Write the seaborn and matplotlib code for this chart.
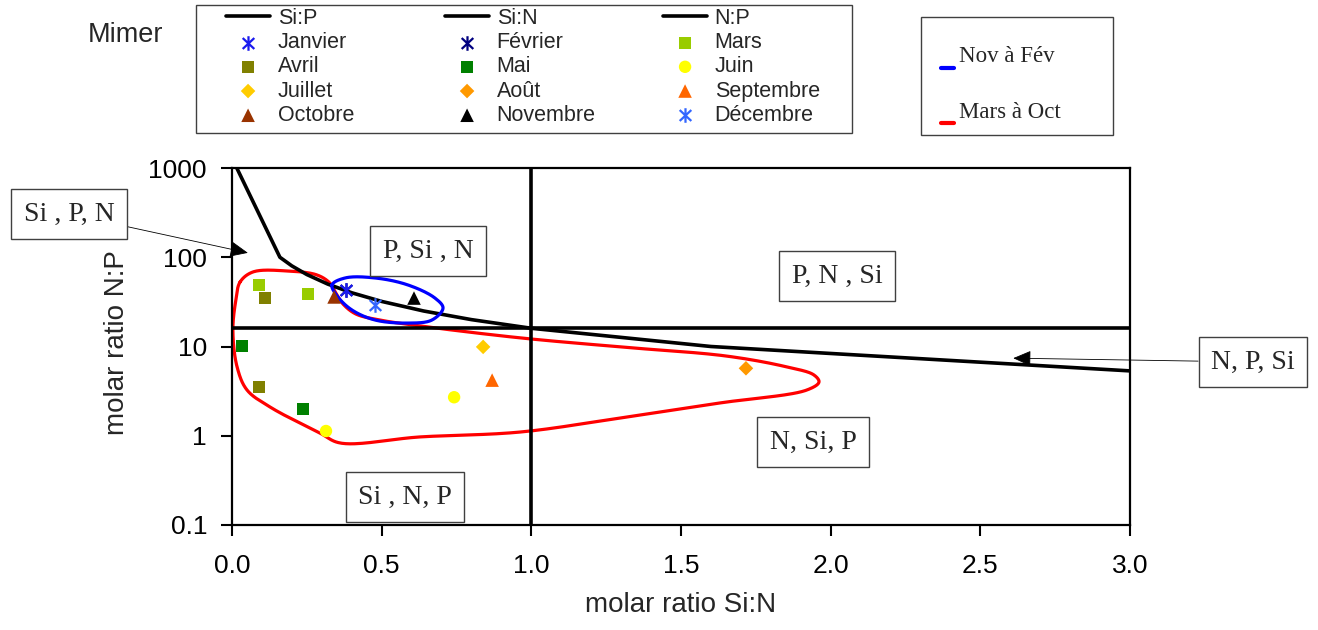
import numpy as np
import matplotlib
matplotlib.use("Agg")
import matplotlib.pyplot as plt
from matplotlib.path import Path
from matplotlib.lines import Line2D
from matplotlib.patches import Rectangle
import seaborn as sns

# ---------------- data ----------------
# Si:P = 16 limiting curve (Si:N on x, N:P on y)
sip_x = [0.016, 0.16, 0.2, 0.25, 0.32, 0.4, 0.5, 0.64, 0.8, 1.0, 1.6, 3.0]
sip_y = [1000, 100, 80, 64, 50, 40, 32, 25, 20, 16, 10, 5.33]
sin_limit = 1.0      # Si:N = 1
np_limit = 16.0      # N:P = 16

months = ["Janvier", "Février", "Mars", "Avril", "Mai", "Juin", "Juillet",
          "Août", "Septembre", "Octobre", "Novembre", "Décembre"]
month_si_n = {
    "Janvier": [0.38], "Février": [0.38], "Mars": [0.09, 0.254],
    "Avril": [0.11, 0.09], "Mai": [0.033, 0.237], "Juin": [0.314, 0.742],
    "Juillet": [0.839], "Août": [1.717], "Septembre": [0.869],
    "Octobre": [0.341], "Novembre": [0.608], "Décembre": [0.478],
}
month_n_p = {
    "Janvier": [43.0], "Février": [43.0], "Mars": [48.9, 38.7],
    "Avril": [34.9, 3.5], "Mai": [10.1, 2.0], "Juin": [1.13, 2.7],
    "Juillet": [9.9], "Août": [5.7], "Septembre": [4.2],
    "Octobre": [35.9], "Novembre": [34.9], "Décembre": [29.2],
}

# hand-drawn groupings (Si:N, N:P)
summer_x = [0.027, 0.070, 0.184, 0.284, 0.327, 0.347, 0.371, 0.414, 0.494, 0.628,
            0.962, 1.296, 1.654, 1.854, 1.944, 1.961, 1.921, 1.630, 1.296, 0.962,
            0.628, 0.361, 0.294, 0.127, 0.050, 0.017, 0.003, 0.013]
summer_y = [52.8, 68.4, 70.2, 63.3, 51.4, 39.7, 29.9, 23.1, 19.8, 17.0,
            12.5, 9.9, 7.8, 5.9, 4.8, 4.0, 3.26, 2.33, 1.58, 1.10,
            0.97, 0.83, 1.07, 2.10, 3.26, 5.9, 15.3, 33.2]
winter_x = [0.334, 0.378, 0.478, 0.588, 0.678, 0.705, 0.668, 0.588, 0.478, 0.401, 0.354]
winter_y = [48.9, 58.6, 58.6, 48.9, 34.9, 27.0, 19.8, 18.3, 19.8, 25.6, 35.9]

# ---------------- styles ----------------
asterisk = Path([(0, -1), (0, 1), (-0.8, -0.75), (0.8, 0.75), (-0.8, 0.75), (0.8, -0.75)],
                [Path.MOVETO, Path.LINETO, Path.MOVETO, Path.LINETO, Path.MOVETO, Path.LINETO])
month_style = {
    "Janvier": ("#1a1aee", asterisk), "Février": ("#000080", asterisk),
    "Mars": ("#99cc00", "s"), "Avril": ("#808000", "s"), "Mai": ("#008000", "s"),
    "Juin": ("#ffff00", "o"), "Juillet": ("#ffcc00", "D"), "Août": ("#ff9900", "D"),
    "Septembre": ("#ff6600", "^"), "Octobre": ("#993300", "^"),
    "Novembre": ("#000000", "^"), "Décembre": ("#3366ff", asterisk),
}

sns.set_style("ticks")
SANS = ["Liberation Sans", "DejaVu Sans"]
SERIF = ["Liberation Serif", "DejaVu Serif"]
plt.rcParams["font.family"] = SANS

W, H = 1318, 630
fig = plt.figure(figsize=(W / 100, H / 100), dpi=100)
ax = fig.add_axes([232 / W, 1 - 525 / H, 898 / W, 357 / H])
ax.set_yscale("log")


def fx(px):
    return px / W


def fy(py):
    return 1 - py / H


# limiting lines
sns.lineplot(x=sip_x, y=sip_y, sort=False, estimator=None, color="black",
             lw=2.6, ax=ax, label="Si:P", zorder=3)
ax.axvline(sin_limit, color="black", lw=2.6, label="Si:N", zorder=3)
ax.axhline(np_limit, color="black", lw=2.6, label="N:P", zorder=3)


def closed_spline(xs, ys, n=30):
    # centripetal Catmull-Rom through the outline vertices, in screen-like units
    pts = np.column_stack([np.asarray(xs) * 299.3, np.log10(ys) * 89.25])
    N = len(pts)
    out = []
    for i in range(N):
        p0, p1, p2, p3 = pts[(i - 1) % N], pts[i], pts[(i + 1) % N], pts[(i + 2) % N]
        t0 = 0.0
        t1 = t0 + np.linalg.norm(p1 - p0) ** 0.5
        t2 = t1 + np.linalg.norm(p2 - p1) ** 0.5
        t3 = t2 + np.linalg.norm(p3 - p2) ** 0.5
        t = np.linspace(t1, t2, n, endpoint=False)[:, None]
        a1 = (t1 - t) / (t1 - t0) * p0 + (t - t0) / (t1 - t0) * p1
        a2 = (t2 - t) / (t2 - t1) * p1 + (t - t1) / (t2 - t1) * p2
        a3 = (t3 - t) / (t3 - t2) * p2 + (t - t2) / (t3 - t2) * p3
        b1 = (t2 - t) / (t2 - t0) * a1 + (t - t0) / (t2 - t0) * a2
        b2 = (t3 - t) / (t3 - t1) * a2 + (t - t1) / (t3 - t1) * a3
        out.append((t2 - t) / (t2 - t1) * b1 + (t - t1) / (t2 - t1) * b2)
    out.append(pts[:1])
    c = np.vstack(out)
    return c[:, 0] / 299.3, 10 ** (c[:, 1] / 89.25)


sx, sy = closed_spline(summer_x, summer_y)
ax.plot(sx, sy, color="#ff0000", lw=2.3, zorder=2)
wx, wy = closed_spline(winter_x, winter_y)
ax.plot(wx, wy, color="#0000ff", lw=2.3, zorder=4)

# monthly points (January drawn above February where they coincide)
for m in months:
    col, mk = month_style[m]
    z = 5.5 if m == "Janvier" else 5
    if mk is asterisk:
        sns.scatterplot(x=month_si_n[m], y=month_n_p[m], marker=mk, s=110,
                        color=col, edgecolor=col, linewidth=1.6, ax=ax, label=m, zorder=z)
    else:
        sz = {"s": 75, "o": 80, "D": 55, "^": 95}[mk]
        sns.scatterplot(x=month_si_n[m], y=month_n_p[m], marker=mk, s=sz,
                        color=col, edgecolor="none", linewidth=0, ax=ax, label=m, zorder=z)

ax.get_legend().remove()

# axes
ax.set_xlim(0, 3.0)
ax.set_ylim(0.1, 1000)
ax.set_xticks([0, 0.5, 1.0, 1.5, 2.0, 2.5, 3.0])
ax.set_xticklabels(["0.0", "0.5", "1.0", "1.5", "2.0", "2.5", "3.0"])
ax.set_yticks([0.1, 1, 10, 100, 1000])
ax.set_yticklabels(["0.1", "1", "10", "100", "1000"])
ax.yaxis.set_minor_locator(matplotlib.ticker.NullLocator())
ax.tick_params(axis="both", which="major", length=8, width=1.5, color="black",
               labelsize=19, labelcolor="black", direction="out")
ax.tick_params(axis="y", pad=10)
ax.tick_params(axis="x", pad=13)
for sp in ax.spines.values():
    sp.set_visible(True)
    sp.set_linewidth(1.6)
    sp.set_color("black")
ax.set_xlabel("molar ratio Si:N", fontsize=20)
ax.set_ylabel("molar ratio N:P", fontsize=20)
ax.xaxis.label.set_va("center")
ax.yaxis.label.set_va("center")
ax.xaxis.set_label_coords(0.5, (525 - 605) / 357)
ax.yaxis.set_label_coords((117 - 232) / 898, 0.51)

# region labels
box = dict(boxstyle="square,pad=0.45", fc="white", ec="#404040", lw=1.0)
for txt, px, py in [("P, Si , N", 428, 251), ("P, N , Si", 837, 276),
                    ("N, Si, P", 813, 442), ("Si , N, P", 405, 497)]:
    fig.text(fx(px), fy(py), txt, ha="center", va="center", fontsize=20,
             family=SERIF, bbox=box, zorder=6)

arrow = dict(arrowstyle="-|>,head_length=0.8,head_width=0.35", mutation_scale=14,
             color="black", lw=0.6, shrinkA=0, shrinkB=0)
ax.annotate("Si , P, N", xy=(0.053, 112), xycoords="data",
            xytext=(fx(69), fy(214)), textcoords="figure fraction",
            ha="center", va="center", fontsize=20, family=SERIF,
            bbox=box, arrowprops=arrow, annotation_clip=False, zorder=6)
ax.annotate("N, P, Si", xy=(2.61, 7.4), xycoords="data",
            xytext=(fx(1253), fy(362)), textcoords="figure fraction",
            ha="center", va="center", fontsize=20, family=SERIF,
            bbox=box, arrowprops=arrow, annotation_clip=False, zorder=6)

# main legend: three columns laid out row by row
handles, labels = ax.get_legend_handles_labels()
hmap = dict(zip(labels, handles))
columns = [["Si:P", "Janvier", "Avril", "Juillet", "Octobre"],
           ["Si:N", "Février", "Mai", "Août", "Novembre"],
           ["N:P", "Mars", "Juin", "Septembre", "Décembre"]]
col_left = [226, 445, 663]
for names, left in zip(columns, col_left):
    fig.legend([hmap[n] for n in names], names, loc="upper left",
               bbox_to_anchor=(fx(left), fy(8)), bbox_transform=fig.transFigure,
               frameon=False, fontsize=15.5, handlelength=2.05, handletextpad=0.35,
               labelspacing=0.15, borderpad=0, borderaxespad=0, markerscale=1.0)
fig.add_artist(Rectangle((fx(196), fy(133)), (852 - 196) / W, (133 - 5) / H,
                         transform=fig.transFigure, fill=False, ec="#404040", lw=1.0))
fig.text(fx(88), fy(35), "Mimer", ha="left", va="center", fontsize=19.5)

# season legend
fig.add_artist(Rectangle((fx(921), fy(135)), (1113 - 921) / W, (135 - 17) / H,
                         transform=fig.transFigure, fill=False, ec="#404040", lw=1.0))
fig.add_artist(Line2D([fx(941), fx(954)], [fy(68), fy(68)], color="#0000ff", lw=3,
                      transform=fig.transFigure))
fig.add_artist(Line2D([fx(941), fx(954)], [fy(123), fy(123)], color="#ff0000", lw=3,
                      transform=fig.transFigure))
fig.text(fx(959), fy(57), "Nov à Fév", ha="left", va="center", fontsize=16.5, family=SERIF)
fig.text(fx(959), fy(112), "Mars à Oct", ha="left", va="center", fontsize=16.5, family=SERIF)

fig.savefig("out.png", dpi=100, facecolor="white")
